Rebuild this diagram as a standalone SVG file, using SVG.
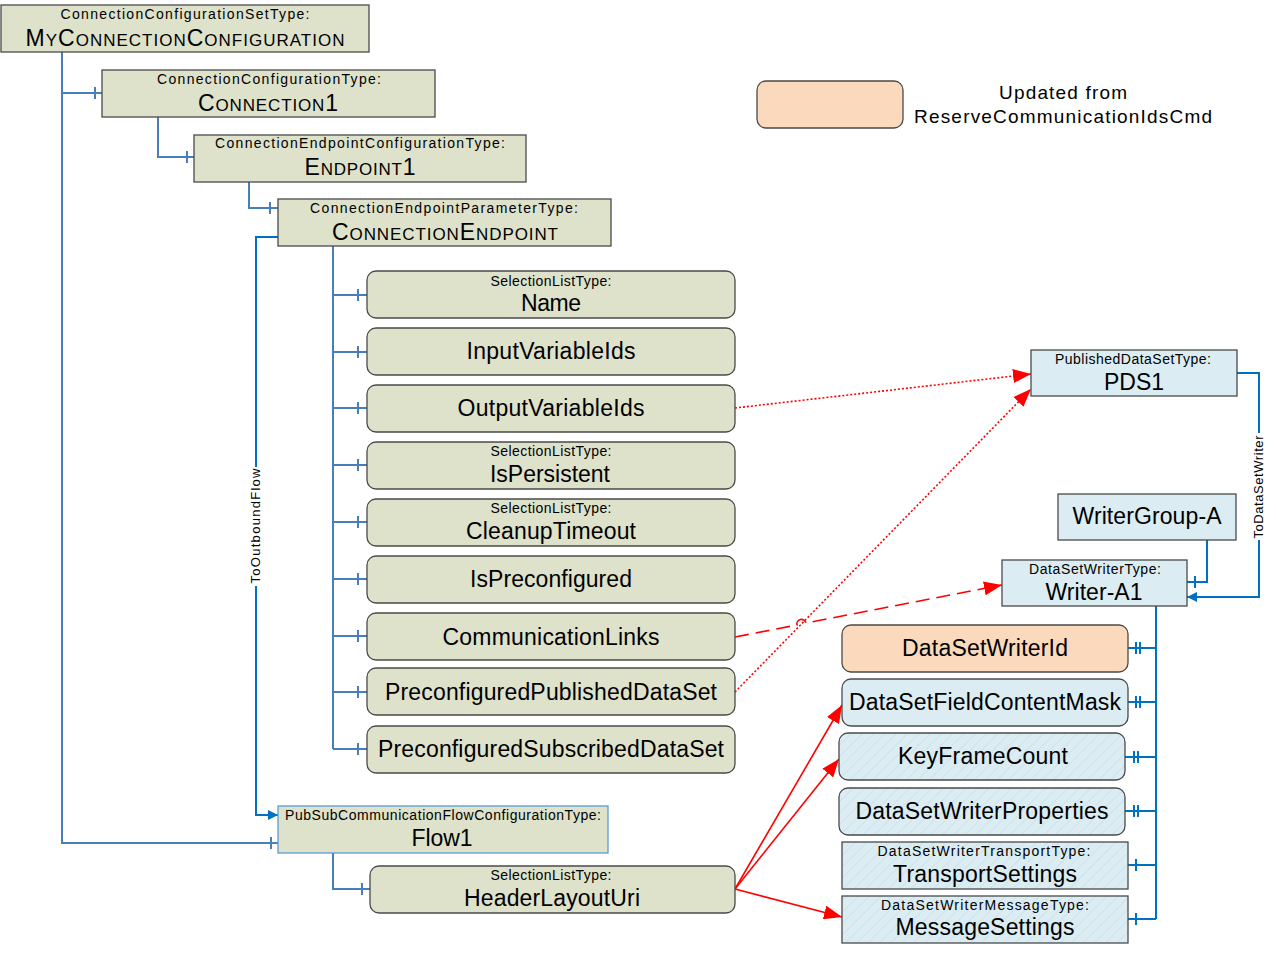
<svg xmlns="http://www.w3.org/2000/svg" width="1276" height="953" viewBox="0 0 1276 953">
<style>
text{font-family:"Liberation Sans",Arial,sans-serif;fill:#000;text-anchor:middle}
.s{font-size:14px}
.m{font-size:23px}
.v{font-size:13px}
.lg{font-size:19px}
.ol{fill:#dee2cb;stroke:#4a4a4a;stroke-width:1.3}
.pe{fill:#fbd9bc;stroke:#4a4a4a;stroke-width:1.3}
.bl{fill:#dbedf3;stroke:#4a4a4a;stroke-width:1.3}
.ha{fill:url(#hatch);stroke:#4a4a4a;stroke-width:1.3}
.t1{fill:none;stroke:#4a7ebb;stroke-width:2}
.t2{fill:none;stroke:#0070c0;stroke-width:2}
.rd{fill:none;stroke:#ff0000;stroke-width:1.6}
</style>
<defs>
<pattern id="hatch" patternUnits="userSpaceOnUse" width="8" height="8" patternTransform="rotate(45)">
<rect width="8" height="8" fill="#dbedf3"/>
<line x1="0" y1="0" x2="0" y2="8" stroke="#cfe2e9" stroke-width="2"/>
</pattern>
<marker id="ab" viewBox="0 0 10 10" refX="10" refY="5" markerWidth="10" markerHeight="10" markerUnits="userSpaceOnUse" orient="auto">
<path d="M0,0 L10,5 L0,10 z" fill="#0070c0"/>
</marker>
<marker id="ar" viewBox="0 0 10 10" refX="10" refY="5" markerWidth="18" markerHeight="14" markerUnits="userSpaceOnUse" orient="auto" preserveAspectRatio="none">
<path d="M0,0 L10,5 L0,10 z" fill="#ff0000"/>
</marker>
</defs>

<g id="connectors">
<path class="t1" d="M62,52 V843 H278"/>
<path class="t1" d="M271,837 V849"/>
<path class="t1" d="M62,93 H102 M95,87 V99"/>
<path class="t1" d="M158,117 V157 H194 M187,151 V163"/>
<path class="t1" d="M249,182 V208 H278 M270,202 V214"/>
<path class="t1" d="M333,246 V749"/>
<path class="t1" d="M333,295 H367 M358,289 V301"/>
<path class="t1" d="M333,352 H367 M358,346 V358"/>
<path class="t1" d="M333,408 H367 M358,402 V414"/>
<path class="t1" d="M333,465 H367 M358,459 V471"/>
<path class="t1" d="M333,522 H367 M358,516 V528"/>
<path class="t1" d="M333,579 H367 M358,573 V585"/>
<path class="t1" d="M333,636 H367 M358,630 V642"/>
<path class="t1" d="M333,692 H367 M358,686 V698"/>
<path class="t1" d="M333,749 H367 M358,743 V755"/>
<path class="t1" d="M333,853 V889 H370 M362,883 V895"/>
<path class="t2" d="M278,237 H256 V815 H278" marker-end="url(#ab)"/>
<rect x="249" y="467" width="14" height="119" fill="#fff"/>
<text class="v" transform="translate(260,526) rotate(-90)" textLength="115" lengthAdjust="spacing">ToOutboundFlow</text>
<path class="t2" d="M1237,373 H1259 V597 H1187" marker-end="url(#ab)"/>
<rect x="1252" y="433" width="14" height="107" fill="#fff"/>
<text class="v" transform="translate(1263,487) rotate(-90)" textLength="103" lengthAdjust="spacing">ToDataSetWriter</text>
<path class="t2" d="M1207,540 V582 H1187 M1195,576 V588"/>
<path class="t2" d="M1156,606 V919"/>
<path class="t2" d="M1156,648 H1128 M1136,642 V654 M1140,642 V654"/>
<path class="t2" d="M1156,702 H1128 M1136,696 V708 M1140,696 V708"/>
<path class="t2" d="M1156,757 H1125 M1134,751 V763 M1138,751 V763"/>
<path class="t2" d="M1156,811 H1125 M1134,805 V817 M1138,805 V817"/>
<path class="t2" d="M1156,865 H1128 M1136,859 V871"/>
<path class="t2" d="M1156,919 H1128 M1136,913 V925"/>
<path class="rd" stroke-dasharray="2,2" d="M735,408 L1031,374" marker-end="url(#ar)"/>
<path class="rd" stroke-dasharray="2,2" d="M735,692 L1031,389" marker-end="url(#ar)"/>
<path class="rd" stroke-dasharray="14,7" d="M735,637 L797,625 A4.5,4.5 0 0 1 806,623 L1002,585" marker-end="url(#ar)"/>
<path class="rd" d="M735,889 L842,705" marker-end="url(#ar)"/>
<path class="rd" d="M735,889 L839,759" marker-end="url(#ar)"/>
<path class="rd" d="M735,889 L842,917" marker-end="url(#ar)"/>
</g>

<g id="legend">
<rect class="pe" x="757" y="81" width="146" height="47" rx="9"/>
<text class="lg" x="1063" y="99" textLength="128" lengthAdjust="spacing">Updated from</text>
<text class="lg" x="1063" y="123" textLength="298" lengthAdjust="spacing">ReserveCommunicationIdsCmd</text>
</g>

<g id="myconnectionconfiguration">
<rect class="ol" x="1" y="5" width="368" height="47"/>
<text class="s" x="185" y="19" textLength="249" lengthAdjust="spacing">ConnectionConfigurationSetType:</text>
<text x="185" y="46" textLength="319" lengthAdjust="spacing"><tspan font-size="23">M</tspan><tspan font-size="17">Y</tspan><tspan font-size="23">C</tspan><tspan font-size="17">ONNECTION</tspan><tspan font-size="23">C</tspan><tspan font-size="17">ONFIGURATION</tspan></text>
</g>

<g id="connection1">
<rect class="ol" x="102" y="70" width="333" height="47"/>
<text class="s" x="269" y="84" textLength="224" lengthAdjust="spacing">ConnectionConfigurationType:</text>
<text x="268" y="111" textLength="140" lengthAdjust="spacing"><tspan font-size="23">C</tspan><tspan font-size="17">ONNECTION</tspan><tspan font-size="23">1</tspan></text>
</g>

<g id="endpoint1">
<rect class="ol" x="194" y="135" width="332" height="47"/>
<text class="s" x="360" y="148" textLength="290" lengthAdjust="spacing">ConnectionEndpointConfigurationType:</text>
<text x="360" y="175" textLength="111" lengthAdjust="spacing"><tspan font-size="23">E</tspan><tspan font-size="17">NDPOINT</tspan><tspan font-size="23">1</tspan></text>
</g>

<g id="connectionendpoint">
<rect class="ol" x="278" y="199" width="333" height="47"/>
<text class="s" x="444" y="213" textLength="268" lengthAdjust="spacing">ConnectionEndpointParameterType:</text>
<text x="445" y="240" textLength="226" lengthAdjust="spacing"><tspan font-size="23">C</tspan><tspan font-size="17">ONNECTION</tspan><tspan font-size="23">E</tspan><tspan font-size="17">NDPOINT</tspan></text>
</g>

<g id="name">
<rect class="ol" x="367" y="271" width="368" height="47" rx="9"/>
<text class="s" x="551" y="286" textLength="121" lengthAdjust="spacing">SelectionListType:</text>
<text class="m" x="551" y="311" textLength="60" lengthAdjust="spacing">Name</text>
</g>

<g id="inputvariableids">
<rect class="ol" x="367" y="328" width="368" height="47" rx="9"/>
<text class="m" x="551" y="359" textLength="169" lengthAdjust="spacing">InputVariableIds</text>
</g>

<g id="outputvariableids">
<rect class="ol" x="367" y="385" width="368" height="47" rx="9"/>
<text class="m" x="551" y="416" textLength="187" lengthAdjust="spacing">OutputVariableIds</text>
</g>

<g id="ispersistent">
<rect class="ol" x="367" y="442" width="368" height="47" rx="9"/>
<text class="s" x="551" y="456" textLength="121" lengthAdjust="spacing">SelectionListType:</text>
<text class="m" x="550" y="482" textLength="120" lengthAdjust="spacing">IsPersistent</text>
</g>

<g id="cleanuptimeout">
<rect class="ol" x="367" y="499" width="368" height="47" rx="9"/>
<text class="s" x="551" y="513" textLength="121" lengthAdjust="spacing">SelectionListType:</text>
<text class="m" x="551" y="539" textLength="170" lengthAdjust="spacing">CleanupTimeout</text>
</g>

<g id="ispreconfigured">
<rect class="ol" x="367" y="556" width="368" height="47" rx="9"/>
<text class="m" x="551" y="587" textLength="162" lengthAdjust="spacing">IsPreconfigured</text>
</g>

<g id="communicationlinks">
<rect class="ol" x="367" y="613" width="368" height="47" rx="9"/>
<text class="m" x="551" y="645" textLength="217" lengthAdjust="spacing">CommunicationLinks</text>
</g>

<g id="preconfiguredpublisheddataset">
<rect class="ol" x="367" y="668" width="368" height="47" rx="9"/>
<text class="m" x="551" y="700" textLength="332" lengthAdjust="spacing">PreconfiguredPublishedDataSet</text>
</g>

<g id="preconfiguredsubscribeddataset">
<rect class="ol" x="367" y="726" width="368" height="47" rx="9"/>
<text class="m" x="551" y="757" textLength="346" lengthAdjust="spacing">PreconfiguredSubscribedDataSet</text>
</g>

<g id="flow1">
<rect x="278" y="806" width="330" height="47" fill="#dee2cb" stroke="#5b9bd5" stroke-width="1.3"/>
<text class="s" x="443" y="820" textLength="316" lengthAdjust="spacing">PubSubCommunicationFlowConfigurationType:</text>
<text class="m" x="442" y="846" textLength="61" lengthAdjust="spacing">Flow1</text>
</g>

<g id="headerlayouturi">
<rect class="ol" x="370" y="866" width="365" height="47" rx="9"/>
<text class="s" x="551" y="880" textLength="121" lengthAdjust="spacing">SelectionListType:</text>
<text class="m" x="552" y="906" textLength="176" lengthAdjust="spacing">HeaderLayoutUri</text>
</g>

<g id="pds1">
<rect class="bl" x="1031" y="350" width="206" height="46"/>
<text class="s" x="1133" y="364" textLength="156" lengthAdjust="spacing">PublishedDataSetType:</text>
<text class="m" x="1134" y="390" textLength="60" lengthAdjust="spacing">PDS1</text>
</g>

<g id="writergroup-a">
<rect class="bl" x="1058" y="494" width="178" height="46"/>
<text class="m" x="1147" y="524" textLength="149" lengthAdjust="spacing">WriterGroup-A</text>
</g>

<g id="writer-a1">
<rect class="bl" x="1002" y="560" width="185" height="46"/>
<text class="s" x="1095" y="574" textLength="132" lengthAdjust="spacing">DataSetWriterType:</text>
<text class="m" x="1094" y="600" textLength="97" lengthAdjust="spacing">Writer-A1</text>
</g>

<g id="datasetwriterid">
<rect class="pe" x="842" y="625" width="286" height="47" rx="9"/>
<text class="m" x="985" y="656" textLength="166" lengthAdjust="spacing">DataSetWriterId</text>
</g>

<g id="datasetfieldcontentmask">
<rect class="bl" x="842" y="679" width="286" height="47" rx="9"/>
<text class="m" x="985" y="710" textLength="272" lengthAdjust="spacing">DataSetFieldContentMask</text>
</g>

<g id="keyframecount">
<rect class="ha" x="839" y="733" width="286" height="47" rx="9"/>
<text class="m" x="983" y="764" textLength="170" lengthAdjust="spacing">KeyFrameCount</text>
</g>

<g id="datasetwriterproperties">
<rect class="ha" x="839" y="788" width="286" height="47" rx="9"/>
<text class="m" x="982" y="819" textLength="253" lengthAdjust="spacing">DataSetWriterProperties</text>
</g>

<g id="transportsettings">
<rect class="ha" x="842" y="842" width="286" height="47"/>
<text class="s" x="984" y="856" textLength="213" lengthAdjust="spacing">DataSetWriterTransportType:</text>
<text class="m" x="985" y="882" textLength="184" lengthAdjust="spacing">TransportSettings</text>
</g>

<g id="messagesettings">
<rect class="ha" x="842" y="896" width="286" height="47"/>
<text class="s" x="985" y="910" textLength="208" lengthAdjust="spacing">DataSetWriterMessageType:</text>
<text class="m" x="985" y="935" textLength="179" lengthAdjust="spacing">MessageSettings</text>
</g>
</svg>
